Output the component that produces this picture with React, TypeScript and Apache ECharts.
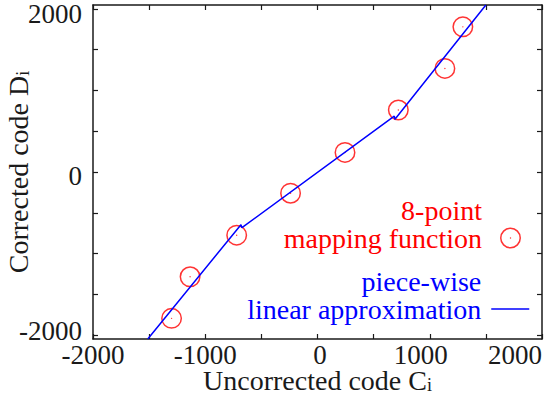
import React, { useEffect, useRef } from 'react';
import * as echarts from 'echarts';

// 8-point mapping function (uncorrected code C_i -> corrected code D_i)
const mapC = [-1300, -1135, -720, -240, 245, 720, 1135, 1295];
const mapD = [-1795, -1285, -775, -260, 240, 760, 1270, 1780];

// piece-wise linear approximation vertices
const approxC = [-1512, -682, -673, 684, 690, 1500];
const approxD = [-2048, -646, -683, 686, 646, 2048];

const xTicks = [-2000, -1500, -1000, -500, 0, 500, 1000, 1500, 2000];
const xLabels = [-2000, -1000, 0, 1000, 2000];
const yTicks = [-2000, -1500, -1000, -500, 0, 500, 1000, 1500, 2000];
const yLabels = [-2000, 0, 2000];

const FONT = 'Liberation Serif';
const INK = '#1a1a1a';
const RED = '#ff0000';
const BLUE = '#0000ff';

const ringPath =
  'path://M10.5 0A10.5 10.5 0 1 1 10.5 21A10.5 10.5 0 1 1 10.5 0Z' +
  'M10.5 1.5A9 9 0 1 0 10.5 19.5A9 9 0 1 0 10.5 1.5Z' +
  'M10.5 9.8A0.7 0.7 0 1 1 10.5 11.2A0.7 0.7 0 1 1 10.5 9.8Z';

const tickFont = { fontFamily: FONT, fontSize: 27, color: INK };
const xTickFont = { ...tickFont, lineHeight: 22 };

export default function App() {
  const ref = useRef<HTMLDivElement>(null);

  useEffect(() => {
    document.body.style.margin = '0';
    if (!ref.current) return;
    const chart = echarts.init(ref.current, undefined, { renderer: 'svg' });

    const frameLine = { show: true, onZero: false, lineStyle: { color: INK, width: 1.5 } };
    const titleRich = {
      m: { fontFamily: FONT, fontSize: 28, color: INK },
      s: { fontFamily: FONT, fontSize: 18, color: INK, verticalAlign: 'bottom', lineHeight: 17 },
    };

    chart.setOption({
      animation: false,
      backgroundColor: '#ffffff',
      grid: { left: 93, right: 4, top: 5, bottom: 61, containLabel: false, outerBoundsMode: 'none' },
      xAxis: [
        {
          type: 'value',
          min: -2000,
          max: 2000,
          position: 'bottom',
          axisLine: frameLine,
          splitLine: { show: false },
          axisTick: { show: true, inside: true, length: 5, customValues: xTicks, lineStyle: { color: INK, width: 1.2 } },
          axisLabel: {
            show: true,
            margin: 4.5,
            customValues: xLabels,
            ...xTickFont,
            formatter: (v: number) => {
              if (v === 2000) return '{r2|2000}';
              if (v === 1000) return '{r1|1000}';
              if (v === 0) return '{z|0}';
              return '{n|' + v + '}';
            },
            rich: {
              n: { ...xTickFont },
              z: { ...xTickFont, padding: [0, 0, 0, 5] },
              r1: { ...xTickFont, padding: [0, 18, 0, 0] },
              r2: { ...xTickFont, padding: [0, 54, 0, 0] },
            },
          },
          name: '{m|Uncorrected code C}{s|i}',
          nameLocation: 'middle',
          nameGap: 27,
          nameMoveOverlap: false,
          nameTextStyle: { fontFamily: FONT, fontSize: 28, color: INK, rich: titleRich },
        },
        {
          type: 'value',
          min: -2000,
          max: 2000,
          position: 'top',
          axisLine: frameLine,
          splitLine: { show: false },
          axisTick: { show: true, inside: true, length: 5, customValues: xTicks, lineStyle: { color: INK, width: 1.2 } },
          axisLabel: { show: false },
        },
      ],
      yAxis: [
        {
          type: 'value',
          min: -2048,
          max: 2048,
          position: 'left',
          axisLine: frameLine,
          splitLine: { show: false },
          axisTick: { show: true, inside: true, length: 5, customValues: yTicks, lineStyle: { color: INK, width: 1.2 } },
          axisLabel: {
            show: true,
            margin: 11,
            customValues: yLabels,
            ...tickFont,
            formatter: (v: number) => {
              if (v === 2000) return '{t|2000}';
              if (v === -2000) return '{b|-2000}';
              return '{z|' + v + '}';
            },
            rich: {
              t: { ...tickFont, padding: [10, 0, 0, 0] },
              z: { ...tickFont, padding: [8, 0, 0, 0] },
              b: { ...tickFont, padding: [0, 0, 8, 0] },
            },
          },
          name: '{m|Corrected code D}{s|i}',
          nameLocation: 'middle',
          nameRotate: 90,
          nameGap: 61,
          nameMoveOverlap: false,
          nameTextStyle: { fontFamily: FONT, fontSize: 28, color: INK, rich: titleRich },
        },
        {
          type: 'value',
          min: -2048,
          max: 2048,
          position: 'right',
          axisLine: frameLine,
          splitLine: { show: false },
          axisTick: { show: true, inside: true, length: 5, customValues: yTicks, lineStyle: { color: INK, width: 1.2 } },
          axisLabel: { show: false },
        },
      ],
      legend: [
        {
          data: [{ name: 'map' }],
          formatter: () => '8-point\nmapping function\n',
          orient: 'vertical',
          align: 'right',
          right: 25,
          top: 196,
          padding: 0,
          itemWidth: 21,
          itemHeight: 21,
          selectedMode: false,
          textStyle: { fontFamily: FONT, fontSize: 28, lineHeight: 28, color: RED, padding: [0, 13, 0, 0] },
        },
        {
          data: [{ name: 'approx' }],
          formatter: () => 'piece-wise\nlinear approximation\n',
          orient: 'vertical',
          align: 'right',
          right: 16,
          top: 267,
          padding: 0,
          itemWidth: 38,
          itemHeight: 14,
          selectedMode: false,
          itemStyle: { opacity: 0 },
          lineStyle: { color: BLUE, width: 1.5, opacity: 1 },
          textStyle: { fontFamily: FONT, fontSize: 28, lineHeight: 28, color: BLUE, padding: [0, 5, 0, 0] },
        },
      ],
      series: [
        {
          name: 'map',
          type: 'scatter',
          xAxisIndex: 0,
          yAxisIndex: 0,
          data: mapC.map((c, i) => [c, mapD[i]]),
          symbol: ringPath,
          symbolSize: 21,
          itemStyle: { color: RED, borderWidth: 0 },
        },
        {
          name: 'approx',
          type: 'line',
          xAxisIndex: 0,
          yAxisIndex: 0,
          data: approxC.map((c, i) => [c, approxD[i]]),
          symbol: 'none',
          lineStyle: { color: BLUE, width: 1.5 },
          itemStyle: { color: BLUE },
        },
      ],
    });

    return () => chart.dispose();
  }, []);

  return <div ref={ref} style={{ width: 546, height: 400 }} />;
}
